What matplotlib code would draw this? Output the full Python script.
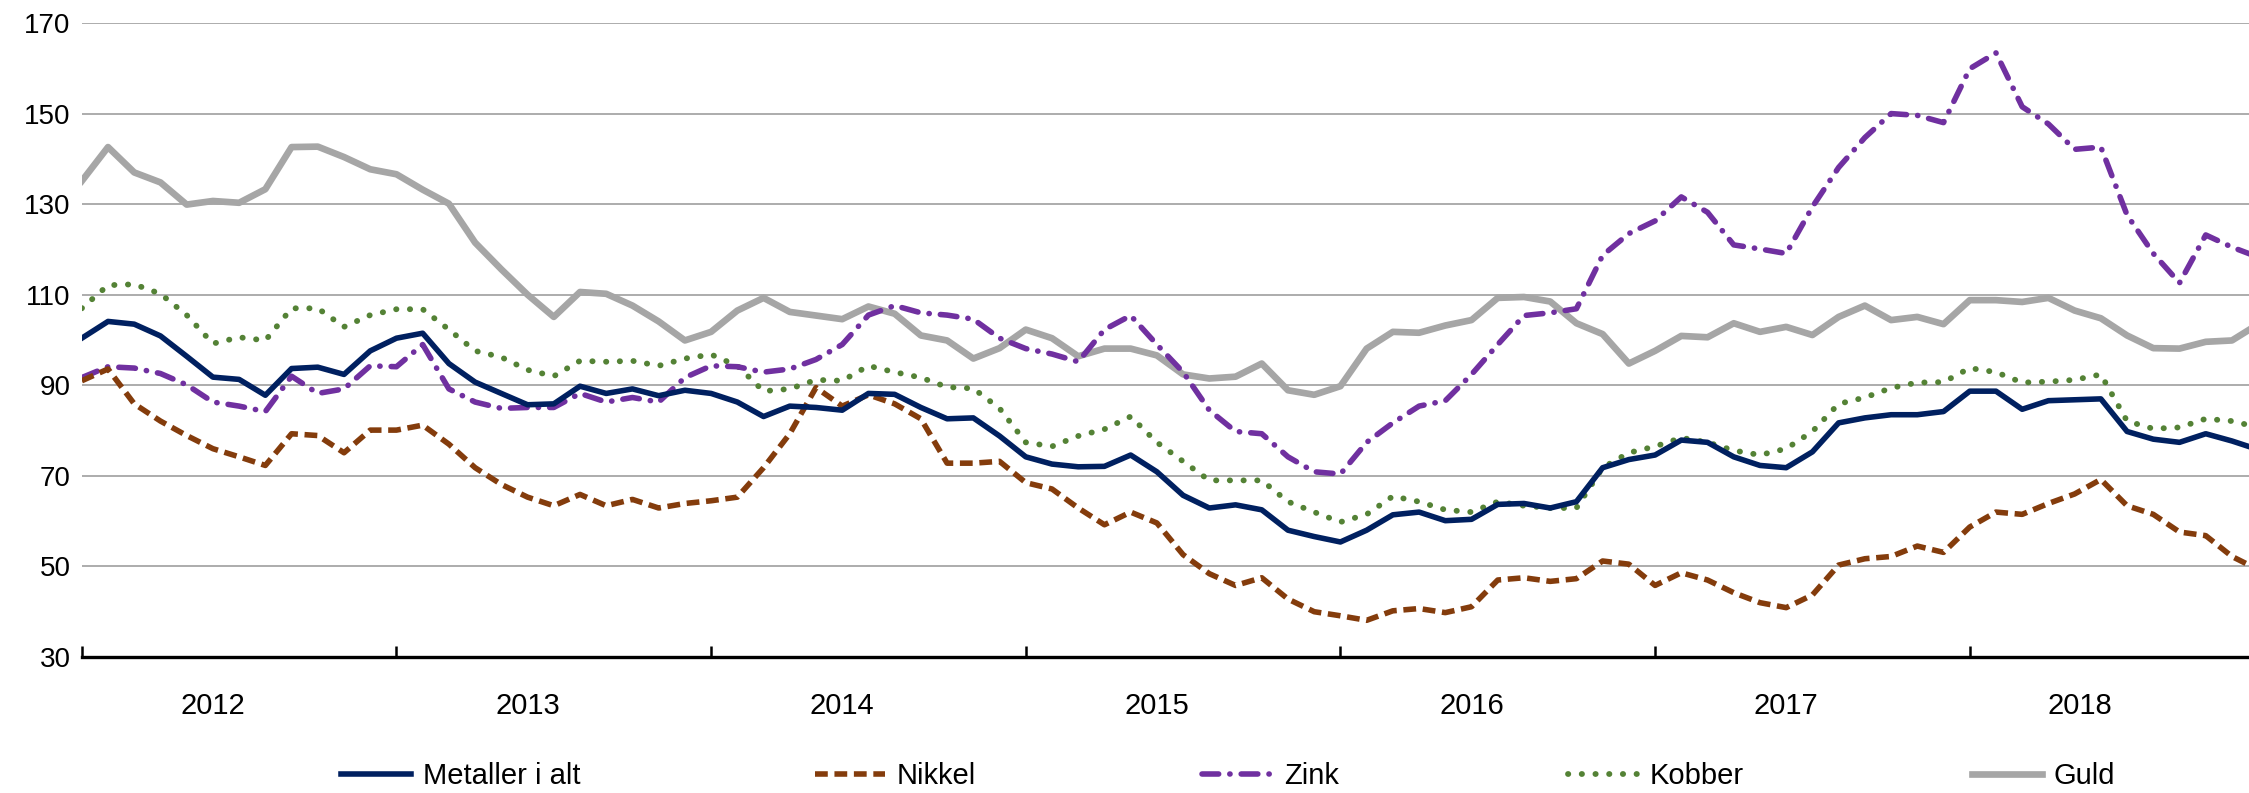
import matplotlib
matplotlib.use("Agg")
import matplotlib.pyplot as plt
from matplotlib.ticker import FixedLocator
import numpy as np

plt.rcParams['font.family'] = ['Liberation Sans', 'DejaVu Sans']

years = ["2012", "2013", "2014", "2015", "2016", "2017", "2018"]

metaller = [100.4, 104.1, 103.5, 100.9, 96.4, 91.8, 91.3, 87.8, 93.7, 94.0, 92.4, 97.6,
            100.4, 101.5, 94.8, 90.7, 88.2, 85.7, 85.9, 89.8, 88.2, 89.2, 87.7, 88.9,
            88.2, 86.3, 83.1, 85.4, 85.1, 84.5, 88.2, 88.0, 85.1, 82.6, 82.8, 78.8,
            74.2, 72.6, 72.0, 72.1, 74.6, 70.9, 65.7, 62.9, 63.6, 62.5, 58.0, 56.6,
            55.4, 58.0, 61.4, 62.0, 60.1, 60.4, 63.7, 63.9, 62.9, 64.3, 71.8, 73.6,
            74.6, 77.9, 77.4, 74.2, 72.3, 71.8, 75.3, 81.7, 82.8, 83.5, 83.5, 84.2,
            88.7, 88.7, 84.7, 86.6, 86.8, 87.0, 79.8, 78.1, 77.4, 79.3, 77.7, 75.8]

nikkel = [91.0, 93.6, 85.9, 82.1, 78.9, 76.0, 74.2, 72.3, 79.3, 78.9, 75.1, 80.1,
          80.1, 81.2, 77.0, 71.8, 68.1, 65.3, 63.4, 65.9, 63.4, 64.8, 62.9, 63.9,
          64.5, 65.3, 71.8, 79.3, 89.5, 85.4, 87.9, 85.9, 82.6, 72.8, 72.8, 73.2,
          68.5, 67.1, 62.9, 59.2, 62.0, 59.6, 52.6, 48.4, 45.8, 47.5, 42.8, 40.0,
          39.1, 38.1, 40.2, 40.7, 39.8, 41.1, 47.0, 47.5, 46.7, 47.3, 51.2, 50.5,
          45.8, 48.6, 47.0, 44.2, 42.0, 40.9, 43.7, 50.3, 51.7, 52.2, 54.5, 53.1,
          58.7, 62.0, 61.5, 63.9, 66.0, 69.2, 63.4, 61.5, 57.6, 56.8, 52.2, 49.3]

zink = [91.7, 94.1, 93.8, 92.6, 90.1, 86.3, 85.4, 84.2, 92.0, 88.2, 89.2, 94.3,
        94.1, 99.0, 89.2, 86.3, 84.9, 85.1, 85.1, 88.2, 86.3, 87.3, 86.3, 91.7,
        94.3, 94.1, 92.9, 93.6, 95.7, 99.0, 105.5, 107.6, 106.0, 105.5, 104.6, 100.4,
        98.1, 96.9, 95.2, 102.3, 105.4, 99.0, 92.9, 84.5, 79.8, 79.3, 74.2, 70.9,
        70.4, 77.4, 81.7, 85.4, 86.6, 92.4, 99.0, 105.4, 106.0, 106.9, 118.7, 123.5,
        126.3, 131.6, 128.2, 121.0, 120.1, 119.1, 129.4, 138.1, 144.7, 150.0, 149.6, 148.0,
        159.9, 163.4, 151.5, 147.7, 142.1, 142.6, 127.6, 119.1, 112.6, 123.2, 120.5, 118.3]

kobber = [107.0, 112.1, 112.3, 110.2, 105.5, 99.2, 100.6, 99.9, 107.0, 107.0, 102.9, 105.5,
          106.8, 106.8, 102.3, 97.6, 96.2, 93.4, 92.0, 95.4, 95.2, 95.4, 94.3, 95.9,
          96.8, 94.3, 88.7, 89.2, 91.2, 91.0, 94.3, 92.9, 91.7, 89.6, 89.3, 84.9,
          77.4, 76.5, 78.8, 80.3, 83.1, 77.4, 73.2, 69.0, 69.0, 69.0, 64.3, 62.0,
          59.8, 61.5, 65.5, 64.3, 62.5, 62.0, 64.3, 63.4, 62.9, 62.9, 71.8, 75.1,
          76.5, 78.4, 77.4, 75.6, 74.6, 76.0, 79.8, 85.9, 87.3, 89.4, 90.6, 90.7,
          93.8, 92.9, 90.6, 90.8, 91.2, 92.4, 82.1, 80.4, 80.7, 82.6, 82.1, 80.7]

guld = [135.1, 142.6, 137.0, 134.8, 129.9, 130.7, 130.3, 133.3, 142.6, 142.7, 140.4, 137.7,
        136.6, 133.2, 130.1, 121.5, 115.6, 110.0, 105.1, 110.6, 110.2, 107.6, 104.1, 99.9,
        101.8, 106.5, 109.3, 106.2, 105.4, 104.6, 107.4, 105.8, 101.0, 99.9, 95.9, 98.2,
        102.3, 100.4, 96.4, 98.1, 98.1, 96.6, 92.4, 91.5, 91.9, 94.8, 88.9, 87.9,
        89.8, 98.1, 101.8, 101.6, 103.2, 104.4, 109.3, 109.5, 108.5, 103.7, 101.3, 94.8,
        97.6, 100.9, 100.6, 103.7, 101.8, 102.9, 101.1, 105.1, 107.6, 104.4, 105.1, 103.5,
        108.8, 108.8, 108.4, 109.3, 106.5, 104.8, 101.0, 98.2, 98.1, 99.6, 99.9, 103.5]

W, H = 2249, 793
FS = 21
fig = plt.figure(figsize=(W / 100, H / 100), dpi=100)
left_px, top_px, bottom_px = 81.8, 23, 657
ax = fig.add_axes([left_px / W, 1 - bottom_px / H, (W - left_px) / W, (bottom_px - top_px) / H])

x = np.arange(len(metaller))

h1, = ax.plot(x, metaller, color='#002060', lw=4.0, label='Metaller i alt', zorder=5)
h2, = ax.plot(x, nikkel, color='#843C0C', lw=4.0, linestyle=(0, (2.3, 1.2)), label='Nikkel', zorder=4)
h3, = ax.plot(x, zink, color='#7030A0', lw=4.0, linestyle=(0, (3.0, 2.0, 0.05, 2.0)),
              dash_capstyle='round', label='Zink', zorder=3)
h4, = ax.plot(x, kobber, color='#548235', lw=4.2, linestyle=(0, (0.05, 2.3)),
              dash_capstyle='round', label='Kobber', zorder=2)
h5, = ax.plot(x, guld, color='#A6A6A6', lw=4.8, label='Guld', zorder=1)

ax.set_xlim(0, 82.65)
ax.set_ylim(30, 170)
ax.set_yticks(np.arange(30, 171, 20))
ax.grid(axis='y', color='#A6A6A6', lw=1.3, zorder=0)
ax.set_axisbelow(True)

for s in ['left', 'right', 'top']:
    ax.spines[s].set_visible(False)
ax.spines['bottom'].set_color('black')
ax.spines['bottom'].set_linewidth(2.4)
ax.spines['bottom'].set_zorder(6)

ax.tick_params(axis='y', length=0, pad=8, labelsize=20)
ax.xaxis.set_major_locator(FixedLocator(np.arange(0, 73, 12)))
ax.tick_params(axis='x', which='major', direction='in', length=8, width=1.8, labelbottom=False)
label_pos = [5.0 + 12 * i for i in range(len(years) - 1)] + [76.2]
ax.xaxis.set_minor_locator(FixedLocator(label_pos))
ax.set_xticklabels(years, minor=True)
ax.tick_params(axis='x', which='minor', length=0, pad=25, labelsize=FS)

handles = [h1, h2, h3, h4, h5]
starts = [341, 815, 1202, 1568, 1972]
for h, sx in zip(handles, starts):
    fig.legend(handles=[h], loc='center left', bbox_to_anchor=(sx / W, 1 - 776 / H),
               frameon=False, fontsize=FS, handlelength=2.4, handletextpad=0.4,
               borderpad=0, borderaxespad=0)

fig.savefig('out.png', dpi=100)
